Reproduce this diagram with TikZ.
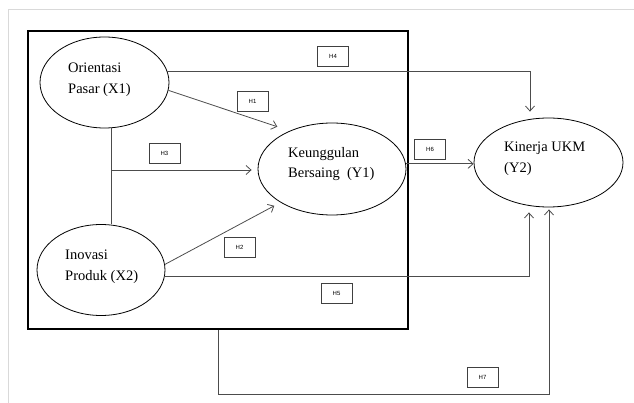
\documentclass[tikz,border=0pt]{standalone}
\usepackage{fontspec}
\setmainfont{Liberation Serif}
\newfontfamily\hfont{Liberation Sans}
\usetikzlibrary{shapes.geometric,arrows.meta}

\begin{document}
\begin{tikzpicture}[x=1pt,y=-1pt,
    var/.style={draw,ellipse,line width=0.8pt,minimum width=#1,inner sep=0pt},
    vtxt/.style={anchor=north west,align=left,inner sep=0pt,font=\fontsize{14.5}{20.5}\selectfont},
    hyp/.style={draw=black!75,line width=0.8pt,minimum width=31pt,minimum height=20pt,inner sep=0pt,font=\hfont\fontsize{6}{7}\selectfont},
    link/.style={draw=black!70,line width=0.8pt},
    arr/.style={link,-{Straight Barb[length=5pt,width=9pt]}}]
    \useasboundingbox (0,0) rectangle (634,403);
    \draw[black!15,line width=1pt] (8,403) -- (8,10) -- (634,10);
    \node[draw,line width=2pt,minimum width=380pt,minimum height=298pt,inner sep=0pt] (grp) at (218,180) {};
    % variables
    \node[var=129pt,minimum height=91pt] (x1) at (104.5,82.5) {};
    \node[var=128pt,minimum height=91pt] (x2) at (101,270) {};
    \node[var=148pt,minimum height=92pt] (y1) at (332,169) {};
    \node[var=149pt,minimum height=89pt] (y2) at (548.5,162.5) {};
    \node[vtxt] (x1t) at (68,63) {Orientasi\\Pasar (X1)};
    \node[vtxt] (x2t) at (65,250) {Inovasi\\Produk (X2)};
    \node[vtxt] (y1t) at (288,147) {Keunggulan\\Bersaing~~(Y1)};
    \node[vtxt] (y2t) at (504,142) {Kinerja UKM\\(Y2)};
    % hypotheses
    \node[hyp] (h1) at (252.5,101.5) {H1};
    \node[hyp] (h2) at (239.5,247.5) {H2};
    \node[hyp] (h3) at (164.5,153) {H3};
    \node[hyp] (h4) at (333,56.5) {H4};
    \node[hyp] (h5) at (336.5,293.5) {H5};
    \node[hyp] (h6) at (430,149) {H6};
    \node[hyp] (h7) at (482.5,377.5) {H7};
    % paths
    \coordinate (jn) at (111,170);
    \draw[link] (x1.south -| jn) -- (x2.north -| jn);
    \draw[arr,shorten >=6pt] (jn) -- (jn -| y1.west);
    \draw[arr,shorten >=13pt] (x1.-7) -- (y1.138);
    \draw[arr,shorten >=7pt] (x2.5) -- (y1.213);
    \draw[arr,shorten >=6pt] (x1.10) -| ([xshift=-18.5pt]y2.north);
    \draw[arr,shorten >=5pt] (x2.-6) -| ([xshift=-19.5pt]y2.south);
    \draw[arr] (y1.4) -- (y1.4 -| y2.west);
    \draw[arr,shorten >=2pt] (grp.south) -- ++(0,64) -| ([xshift=0.5pt]y2.south);
\end{tikzpicture}
\end{document}
